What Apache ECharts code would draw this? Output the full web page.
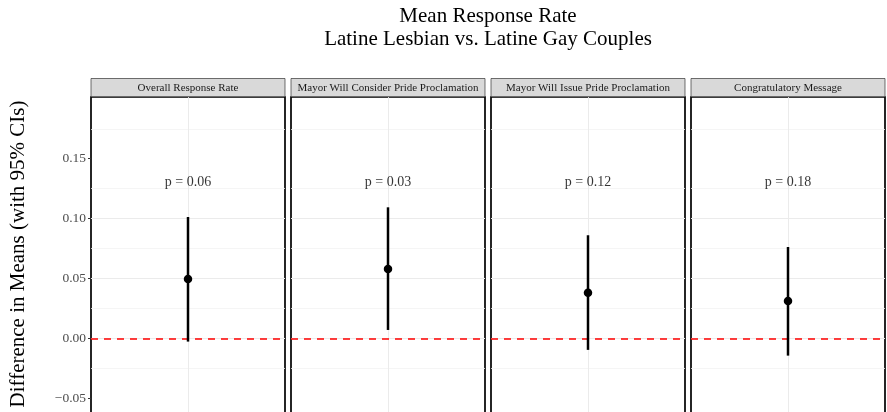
<!DOCTYPE html>
<html><head><meta charset="utf-8">
<script src="https://cdn.jsdelivr.net/npm/echarts@6/dist/echarts.min.js"></script>
<style>html,body{margin:0;padding:0;background:#fff}#c{width:887px;height:412px}</style>
</head><body><div id="c"></div>
<script>
// ---- data ----
const categories = ['Overall Response Rate', 'Mayor Will Consider Pride Proclamation', 'Mayor Will Issue Pride Proclamation', 'Congratulatory Message'];
const estimates = [0.0497, 0.0581, 0.0383, 0.0314];
const ciLower = [-0.0025, 0.0072, -0.0094, -0.0142];
const ciUpper = [0.1014, 0.1095, 0.0862, 0.0764];
const pLabels = ['p = 0.06', 'p = 0.03', 'p = 0.12', 'p = 0.18'];
const pLabelY = 0.13;
const refLineY = 0;
const yTickValues = [-0.05, 0, 0.05, 0.1, 0.15];
const titleLines = ['Mean Response Rate', 'Latine Lesbian vs. Latine Gay Couples'];
const yAxisTitle = 'Difference in Means (with 95% CIs)';

// ---- layout ----
const FONT = "'Liberation Serif', 'Times New Roman', serif";
const PANEL_LEFT0 = 91, PANEL_STEP = 200, PANEL_W = 194, PANEL_TOP = 97;
const Y_MIN = -0.1, Y_MAX = 0.2015, PX_PER_UNIT = 1199, Y_INT = 0.05;
const PANEL_H = (Y_MAX - Y_MIN) * PX_PER_UNIT;

const chart = echarts.init(document.getElementById('c'), null, {renderer: 'canvas'});

const fmt = v => v.toFixed(2).replace('-', '\u2212');

const grids = [], xAxes = [], yAxes = [], series = [], graphics = [];
categories.forEach((cat, i) => {
  const left = PANEL_LEFT0 + i * PANEL_STEP;
  grids.push({left: left, top: PANEL_TOP, width: PANEL_W, height: PANEL_H, show: true,
    backgroundColor: '#fff', borderColor: '#000', borderWidth: 1.7,
    containLabel: false, outerBoundsMode: 'none'});
  xAxes.push({type: 'value', gridIndex: i, min: 0, max: 2, interval: 1,
    axisLine: {show: false}, axisTick: {show: false}, axisLabel: {show: false},
    splitLine: {show: true, showMinLine: false, showMaxLine: false, lineStyle: {color: '#ebebeb', width: 1}}});
  yAxes.push({type: 'value', gridIndex: i, min: Y_MIN, max: Y_MAX, interval: Y_INT,
    axisLine: {show: false},
    axisTick: {show: i === 0, length: 3, customValues: yTickValues, lineStyle: {color: '#333', width: 1}},
    axisLabel: {show: i === 0, margin: 5, color: '#4d4d4d', customValues: yTickValues,
      fontFamily: FONT, fontSize: 13.5,
      formatter: v => {
        const k = v / Y_INT;
        if (Math.abs(k - Math.round(k)) > 1e-6 || v > 0.19) return '';
        return fmt(v);
      }},
    splitLine: {show: true, showMinLine: false, showMaxLine: false, lineStyle: {color: '#ebebeb', width: 1}},
    minorTick: {show: false, splitNumber: 2},
    minorSplitLine: {show: true, lineStyle: {color: '#f2f2f2', width: 0.8}}});

  series.push({type: 'custom', xAxisIndex: i, yAxisIndex: i, silent: true,
    encode: {x: 0, y: [1, 2]},
    data: [[1, ciLower[i], ciUpper[i]]],
    renderItem: (params, api) => {
      const a = api.coord([api.value(0), api.value(1)]);
      const b = api.coord([api.value(0), api.value(2)]);
      return {type: 'line', shape: {x1: a[0], y1: a[1], x2: b[0], y2: b[1]},
        style: {stroke: '#000', lineWidth: 2.5}};
    },
    z: 3});
  series.push({type: 'scatter', xAxisIndex: i, yAxisIndex: i, silent: true,
    data: [[1, estimates[i]]], symbol: 'circle', symbolSize: 8.5,
    itemStyle: {color: '#000', opacity: 1}, z: 4,
    markLine: {silent: true, symbol: 'none', label: {show: false},
      lineStyle: {color: '#ff0000', type: [7, 6], width: 1.6, opacity: 1},
      data: [{yAxis: refLineY}], z: 2}});
  series.push({type: 'scatter', xAxisIndex: i, yAxisIndex: i, silent: true,
    data: [[1, pLabelY, pLabels[i]]], symbol: 'circle', symbolSize: 0,
    itemStyle: {color: '#000'},
    label: {show: true, position: 'inside', formatter: p => p.value[2],
      color: '#000', textBorderWidth: 0, fontFamily: FONT, fontSize: 14}, z: 5});

  graphics.push({type: 'rect', shape: {x: left, y: 78.5, width: PANEL_W, height: 18.2},
    style: {fill: '#d9d9d9', stroke: '#333', lineWidth: 0.7}, z: 10});
  graphics.push({type: 'text', x: left + PANEL_W / 2, y: 88,
    style: {text: cat, align: 'center', verticalAlign: 'middle', fontFamily: FONT, fontSize: 11, fill: '#1a1a1a'}, z: 11});
});

graphics.push({type: 'text', x: 488, y: 16,
  style: {text: titleLines[0], align: 'center', verticalAlign: 'middle', fontFamily: FONT, fontSize: 21, fill: '#000'}});
graphics.push({type: 'text', x: 488, y: 39.5,
  style: {text: titleLines[1], align: 'center', verticalAlign: 'middle', fontFamily: FONT, fontSize: 21, fill: '#000'}});
graphics.push({type: 'text', x: 18, y: 254, rotation: Math.PI / 2,
  style: {text: yAxisTitle, align: 'center', verticalAlign: 'middle', fontFamily: FONT, fontSize: 21, fill: '#000'}});

chart.setOption({
  animation: false,
  backgroundColor: '#fff',
  grid: grids, xAxis: xAxes, yAxis: yAxes, series: series, graphic: graphics
});
</script></body></html>
